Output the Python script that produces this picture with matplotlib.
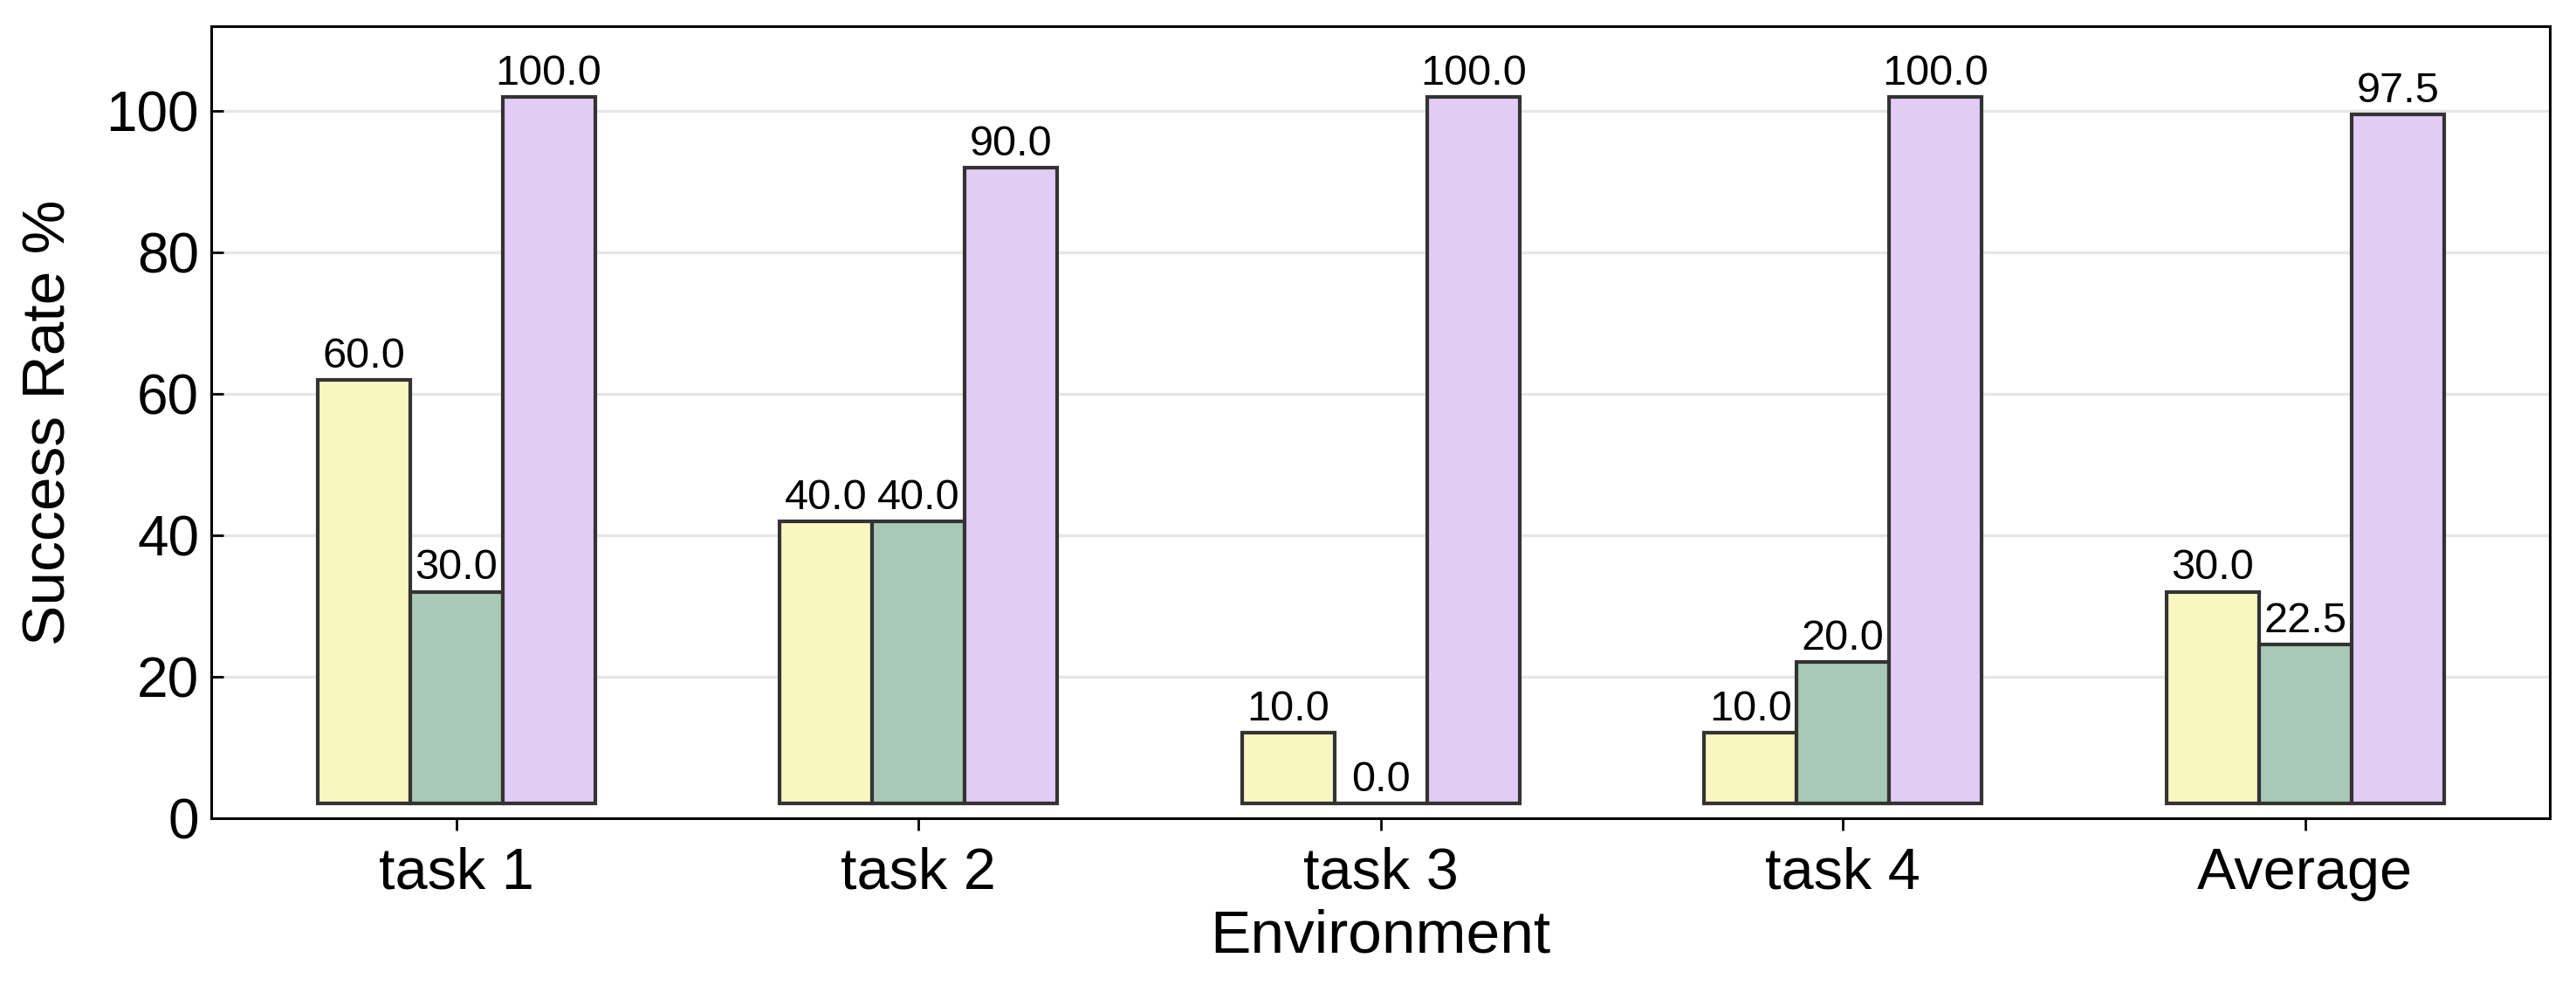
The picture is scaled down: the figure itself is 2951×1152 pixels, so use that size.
import numpy as np
import matplotlib.pyplot as plt

plt.rcParams['font.family'] = ['Liberation Sans', 'DejaVu Sans']

environments = ['task 1', 'task 2', 'task 3', 'task 4', 'Average']
series_a = [60.0, 40.0, 10.0, 10.0, 30.0]
series_b = [30.0, 40.0, 0.0, 20.0, 22.5]
series_c = [100.0, 90.0, 100.0, 100.0, 97.5]


def main():
    colors = ['#f8f6c1', '#a9c9b6', '#e1ccf5']
    all_series = [series_a, series_b, series_c]
    width = 0.2
    base = 2

    fig = plt.figure(figsize=(14.755, 5.76), dpi=200)
    ax = fig.add_axes([0.082, 0.187, 0.908, 0.787])

    x = np.arange(len(environments))
    for i, (vals, col) in enumerate(zip(all_series, colors)):
        pos = x + (i - 1) * width
        ax.bar(pos, vals, width, bottom=base, color=col, edgecolor='#333333',
               linewidth=1.5, zorder=3)
        for px, v in zip(pos, vals):
            ax.text(px, base + v + 0.5, f'{v:.1f}', ha='center', va='bottom',
                    fontsize=17.5, zorder=4)

    ax.set_xlim(-0.53, len(environments) - 0.47)
    ax.set_ylim(0, 112)
    ax.set_yticks([0, 20, 40, 60, 80, 100])
    ax.set_xticks(x)
    ax.set_xticklabels(environments)
    ax.yaxis.grid(True, color='#e6e6e6', linewidth=1.2, zorder=0)
    ax.set_axisbelow(True)

    ax.tick_params(axis='y', direction='in', length=5, width=1, labelsize=23, pad=5)
    ax.tick_params(axis='x', direction='out', length=5, width=1, labelsize=24, pad=7)
    for s in ax.spines.values():
        s.set_linewidth(1.1)

    ax.set_xlabel('Environment', fontsize=25, labelpad=3)
    ax.set_ylabel('Success Rate %', fontsize=25, labelpad=12)

    fig.savefig('out.png', dpi=200)


if __name__ == '__main__':
    main()
